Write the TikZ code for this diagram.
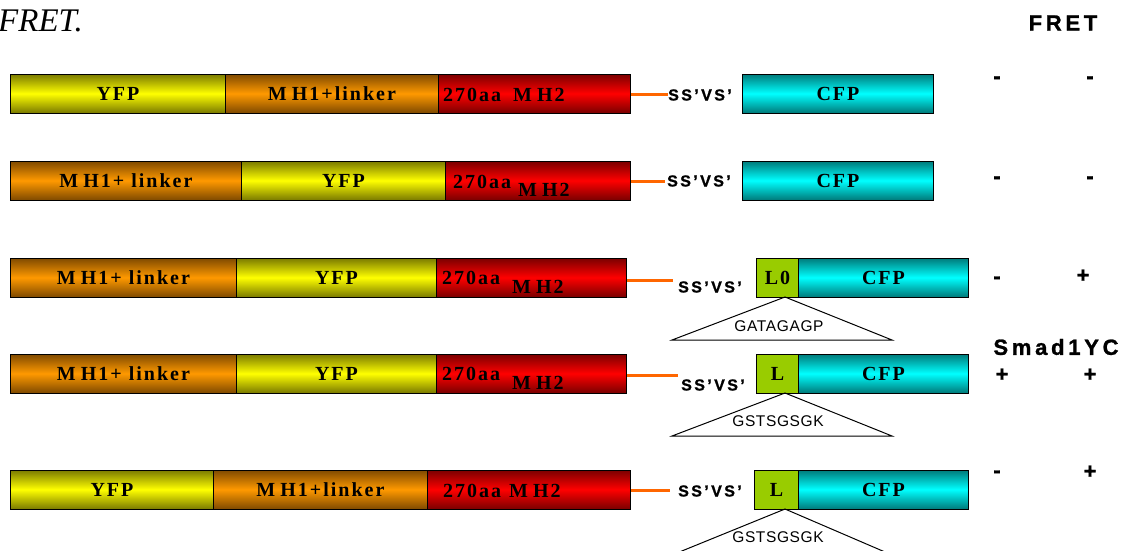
\documentclass[tikz,border=0pt]{standalone}
\usepackage{fontspec}
\setmainfont{Liberation Serif}
\newfontfamily\boxf[LetterSpace=10]{Liberation Serif}
\newfontfamily\ssf[LetterSpace=15,FakeBold=1.2,UprightFont={* Bold}]{Liberation Sans}
\newfontfamily\hdf[LetterSpace=17,FakeBold=1.2,UprightFont={* Bold}]{Liberation Sans}
\newfontfamily\seqf[LetterSpace=4]{Liberation Sans}
\definecolor{yfpb}{HTML}{FFFF00}\definecolor{yfpd}{HTML}{7A7A00}
\definecolor{orb}{HTML}{FF9900}\definecolor{ord}{HTML}{7F4A00}
\definecolor{redb}{HTML}{FF0000}\definecolor{redd}{HTML}{7A0000}
\definecolor{cyb}{HTML}{00FFFF}\definecolor{cyd}{HTML}{007A7A}
\definecolor{lgr}{HTML}{99CC00}
\definecolor{lnk}{HTML}{FF6600}
\tikzset{
  seg/.style={draw=black, line width=0.9pt, inner sep=0pt, minimum height=39pt, anchor=west,
    font=\boxf\bfseries\fontsize{20}{20}\selectfont},
  yfp/.style={top color=yfpd, bottom color=yfpd, middle color=yfpb},
  orn/.style={top color=ord, bottom color=ord, middle color=orb},
  rd/.style={top color=redd, bottom color=redd, middle color=redb},
  cy/.style={top color=cyd, bottom color=cyd, middle color=cyb},
  lbox/.style={fill=lgr},
  txt/.style={inner sep=0pt, font=\boxf\bfseries\fontsize{20}{20}\selectfont},
  ss/.style={inner sep=0pt, anchor=west, font=\ssf\fontsize{16}{16}\selectfont},
  sign/.style={inner sep=0pt, font=\hdf\fontsize{22}{22}\selectfont},
  seq/.style={inner sep=0pt, font=\seqf\fontsize{15.5}{15.5}\selectfont},
  link/.style={draw=lnk, line width=3pt},
  tri/.style={draw=black, line width=1pt},
}
\begin{document}
\begin{tikzpicture}[x=1pt,y=-1pt]
\useasboundingbox (0,0) rectangle (1127,550);
\clip (0,0) rectangle (1127,550);
% title
\node[inner sep=0pt, anchor=west, font=\itshape\fontsize{33}{33}\selectfont] (title) at (-2,21) {FRET.};
\node[sign] (fret) at (1063,23) {FRET};
% ---------- row 1
\node[seg,yfp,minimum width=215pt] (r1a) at (10,93.5) {YFP};
\node[seg,orn,minimum width=213pt] (r1b) at (225,93.5) {M\kern5pt H1+linker};
\node[seg,rd,minimum width=192pt] (r1c) at (438,93.5) {};
\node[txt,anchor=west] (r1t) at (443,95) {270aa\kern12pt M\kern5pt H2};
\node[ss] (r1s) at (668,95) {SS’VS’};
\node[seg,cy,minimum width=191pt] (r1d) at (742,93.5) {CFP};
\coordinate (r1e) at (668,94);
\draw[link] (r1c.east |- r1e) -- (r1e);
\node[sign] (r1m1) at (997,80) {-};
\node[sign] (r1m2) at (1090,80) {-};
% ---------- row 2
\node[seg,orn,minimum width=231pt] (r2a) at (10,180.5) {M\kern5pt H1+ linker};
\node[seg,yfp,minimum width=204pt] (r2b) at (241,180.5) {YFP};
\node[seg,rd,minimum width=185pt] (r2c) at (445,180.5) {};
\node[txt,anchor=west] (r2t) at (453,182) {270aa};
\node[txt,anchor=west] (r2u) at (518,190) {M\kern5pt H2};
\node[ss] (r2s) at (667,181) {SS’VS’};
\node[seg,cy,minimum width=191pt] (r2d) at (742,180.5) {CFP};
\coordinate (r2e) at (665,181);
\draw[link] (r2c.east |- r2e) -- (r2e);
\node[sign] (r2m1) at (997,180) {-};
\node[sign] (r2m2) at (1090,180) {-};
% ---------- row 3
\node[seg,orn,minimum width=226pt] (r3a) at (10,277.5) {M\kern5pt H1+ linker};
\node[seg,yfp,minimum width=200pt] (r3b) at (236,277.5) {YFP};
\node[seg,rd,minimum width=190pt] (r3c) at (436,277.5) {};
\node[txt,anchor=west] (r3t) at (442,278) {270aa};
\node[txt,anchor=west] (r3u) at (512,287) {M\kern5pt H2};
\node[ss] (r3s) at (678,287) {SS’VS’};
\node[seg,lbox,minimum width=42pt] (r3l) at (756,277.5) {L0};
\node[seg,cy,minimum width=170pt] (r3d) at (798,277.5) {CFP};
\coordinate (r3e) at (673,280);
\draw[link] (r3c.east |- r3e) -- (r3e);
\coordinate (r3p) at (785,297);
\coordinate (r3q) at (672,340);
\coordinate (r3r) at (892,340);
\draw[tri] (r3p) -- (r3q) -- (r3r) -- cycle;
\node[seq] (r3g) at (779,326) {GATAGAGP};
\node[sign] (r3m1) at (997,280) {-};
\node[sign] (r3m2) at (1083,276) {+};
% ---------- Smad1YC
\node[sign] (smad) at (1056,347) {Smad1YC};
% ---------- row 4
\node[seg,orn,minimum width=226pt] (r4a) at (10,373.5) {M\kern5pt H1+ linker};
\node[seg,yfp,minimum width=200pt] (r4b) at (236,373.5) {YFP};
\node[seg,rd,minimum width=190pt] (r4c) at (436,373.5) {};
\node[txt,anchor=west] (r4t) at (442,374) {270aa};
\node[txt,anchor=west] (r4u) at (512,383) {M\kern5pt H2};
\node[ss] (r4s) at (681,385) {SS’VS’};
\node[seg,lbox,minimum width=42pt] (r4l) at (756,373.5) {L};
\node[seg,cy,minimum width=170pt] (r4d) at (798,373.5) {CFP};
\coordinate (r4e) at (678,375);
\draw[link] (r4c.east |- r4e) -- (r4e);
\coordinate (r4p) at (785,393);
\coordinate (r4q) at (672,436);
\coordinate (r4r) at (892,436);
\draw[tri] (r4p) -- (r4q) -- (r4r) -- cycle;
\node[seq] (r4g) at (778,421) {GSTSGSGK};
\node[sign] (r4m1) at (1002,375) {+};
\node[sign] (r4m2) at (1090,375) {+};
% ---------- row 5
\node[seg,yfp,minimum width=203pt] (r5a) at (10,489.5) {YFP};
\node[seg,orn,minimum width=214pt] (r5b) at (213,489.5) {M\kern5pt H1+linker};
\node[seg,rd,minimum width=203pt] (r5c) at (427,489.5) {};
\node[txt,anchor=west] (r5t) at (443,491) {270aa\kern8pt M\kern5pt H2};
\node[ss] (r5s) at (678,491) {SS’VS’};
\node[seg,lbox,minimum width=44pt] (r5l) at (754,489.5) {L};
\node[seg,cy,minimum width=170pt] (r5d) at (798,489.5) {CFP};
\coordinate (r5e) at (670,490);
\draw[link] (r5c.east |- r5e) -- (r5e);
\coordinate (r5p) at (785,509);
\coordinate (r5q) at (672,555);
\coordinate (r5r) at (892,555);
\draw[tri] (r5q) -- (r5p) -- (r5r);
\node[seq] (r5g) at (778,537) {GSTSGSGK};
\node[sign] (r5m1) at (997,474) {-};
\node[sign] (r5m2) at (1090,472) {+};
\end{tikzpicture}
\end{document}
